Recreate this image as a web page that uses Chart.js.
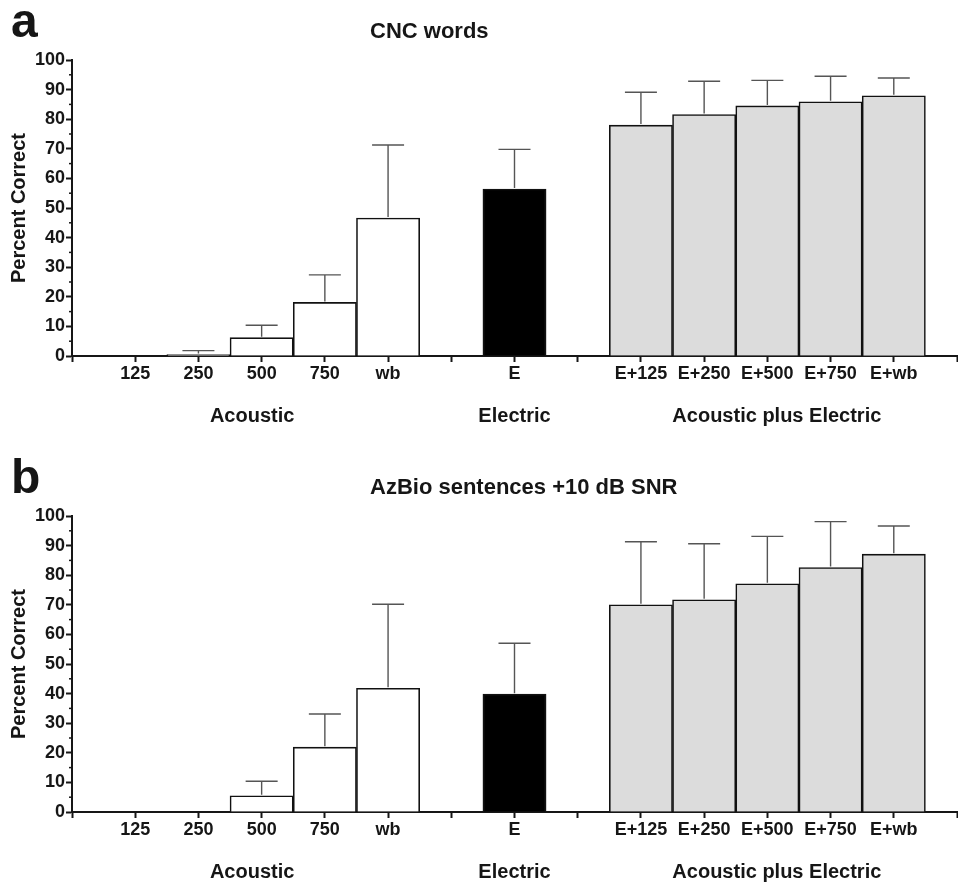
<!DOCTYPE html>
<html>
<head>
<meta charset="utf-8">
<script src="https://cdn.jsdelivr.net/npm/chart.js@4/dist/chart.umd.min.js"></script>
<style>
  html, body { margin: 0; padding: 0; background: #fff; overflow: hidden; }
  #wrap { position: relative; width: 958px; height: 886px; overflow: hidden; }
  canvas { position: absolute; left: 0; }
</style>
</head>
<body>
<div id="wrap">
  <canvas id="chartA" width="958" height="456" style="top:0"></canvas>
  <canvas id="chartB" width="958" height="456" style="top:456px"></canvas>
</div>
<script>
// blank labels are the spacers between the groups
const labels = ['', '125', '250', '500', '750', 'wb', '', 'E', '', 'E+125', 'E+250', 'E+500', 'E+750', 'E+wb', ''];
const yTicks = [0, 10, 20, 30, 40, 50, 60, 70, 80, 90, 100];

// panel a: CNC words (mean and mean + SD)
const cncMean  = [null, null, 0.5, 6.2, 18.1, 46.6, null, 56.4, null, 78.0, 81.6, 84.5, 85.9, 87.9, null];
const cncUpper = [null, null, 1.8, 10.4, 27.4, 71.3, null, 69.8, null, 89.1, 92.8, 93.1, 94.5, 93.9, null];

// panel b: AzBio sentences +10 dB SNR
const azMean  = [null, null, null, 5.5, 21.9, 41.8, null, 39.8, null, 70.0, 71.7, 77.1, 82.6, 87.1, null];
const azUpper = [null, null, null, 10.4, 33.1, 70.2, null, 57.0, null, 91.3, 90.6, 93.1, 98.1, 96.6, null];

const groupNames = ['Acoustic', 'Electric', 'Acoustic plus Electric'];
const groupCenters = [2.85, 7, 11.15];

const FONT = "'Liberation Sans', Arial, sans-serif";
const INK = '#161616';

function fillFor(label) {
    if (label === 'E') return '#000000';
    if (label.startsWith('E+')) return '#dcdcdc';
    return '#ffffff';
}

const extras = {
    id: 'extras',
    afterDraw(chart, args, opts) {
        const ctx = chart.ctx;
        const x = chart.scales.x, y = chart.scales.y;
        const area = chart.chartArea;
        ctx.save();

        // minor ticks on y
        ctx.strokeStyle = INK;
        ctx.lineWidth = 1.5;
        for (let v = 5; v < 100; v += 10) {
            const py = y.getPixelForValue(v);
            ctx.beginPath();
            ctx.moveTo(area.left - 3, py);
            ctx.lineTo(area.left, py);
            ctx.stroke();
        }

        // upper error bars
        const meta = chart.getDatasetMeta(0);
        ctx.strokeStyle = '#555';
        ctx.lineWidth = 1.4;
        opts.upper.forEach((u, i) => {
            if (u == null || opts.mean[i] == null) return;
            const px = meta.data[i].x;
            const top = y.getPixelForValue(u);
            const base = y.getPixelForValue(opts.mean[i]);
            ctx.beginPath();
            ctx.moveTo(px, base - 1);
            ctx.lineTo(px, top);
            ctx.moveTo(px - 16, top);
            ctx.lineTo(px + 16, top);
            ctx.stroke();
        });

        // group labels
        ctx.fillStyle = INK;
        ctx.font = 'bold 20px ' + FONT;
        ctx.textAlign = 'center';
        ctx.textBaseline = 'middle';
        groupNames.forEach((g, i) => {
            ctx.fillText(g, x.getPixelForValue(groupCenters[i]), area.bottom + 60);
        });

        // panel letter and title
        ctx.textAlign = 'left';
        ctx.textBaseline = 'alphabetic';
        ctx.font = 'bold 48px ' + FONT;
        ctx.fillText(opts.letter, 11, 37);
        ctx.font = 'bold 22px ' + FONT;
        ctx.fillText(opts.title, 370, 38);
        ctx.restore();
    }
};

function makeChart(id, mean, upper, title, letter) {
    return new Chart(document.getElementById(id), {
        type: 'bar',
        data: {
            labels: labels,
            datasets: [{
                data: mean,
                backgroundColor: c => fillFor(labels[c.dataIndex]),
                borderColor: '#111',
                borderWidth: 1.6,
                barPercentage: 1,
                categoryPercentage: 1
            }]
        },
        options: {
            responsive: false,
            animation: false,
            layout: { padding: { top: 60, right: 0, left: 0, bottom: 0 } },
            plugins: {
                legend: { display: false },
                tooltip: { enabled: false },
                extras: { mean: mean, upper: upper, title: title, letter: letter }
            },
            scales: {
                x: {
                    offset: false,
                    grid: { offset: false, drawOnChartArea: false, drawTicks: true, tickLength: 6, tickColor: INK, tickWidth: 2 },
                    border: { color: INK, width: 2 },
                    ticks: { color: INK, font: { family: FONT, size: 18, weight: 'bold' }, padding: 1, autoSkip: false, maxRotation: 0 },
                    afterFit: s => { s.height = 100; }
                },
                y: {
                    min: 0,
                    max: 100,
                    afterBuildTicks: s => { s.ticks = yTicks.map(v => ({ value: v })); },
                    grid: { drawOnChartArea: false, drawTicks: true, tickLength: 6, tickColor: INK, tickWidth: 2 },
                    border: { color: INK, width: 2 },
                    ticks: { color: INK, font: { family: FONT, size: 18, weight: 'bold' }, padding: 1 },
                    title: {
                        display: true,
                        text: 'Percent Correct',
                        color: INK,
                        font: { family: FONT, size: 20, weight: 'bold' },
                        padding: { top: 7, bottom: 0 }
                    },
                    afterFit: s => { s.width = 72; }
                }
            }
        },
        plugins: [extras]
    });
}

makeChart('chartA', cncMean, cncUpper, 'CNC words', 'a');
makeChart('chartB', azMean, azUpper, 'AzBio sentences +10 dB SNR', 'b');
</script>
</body>
</html>
